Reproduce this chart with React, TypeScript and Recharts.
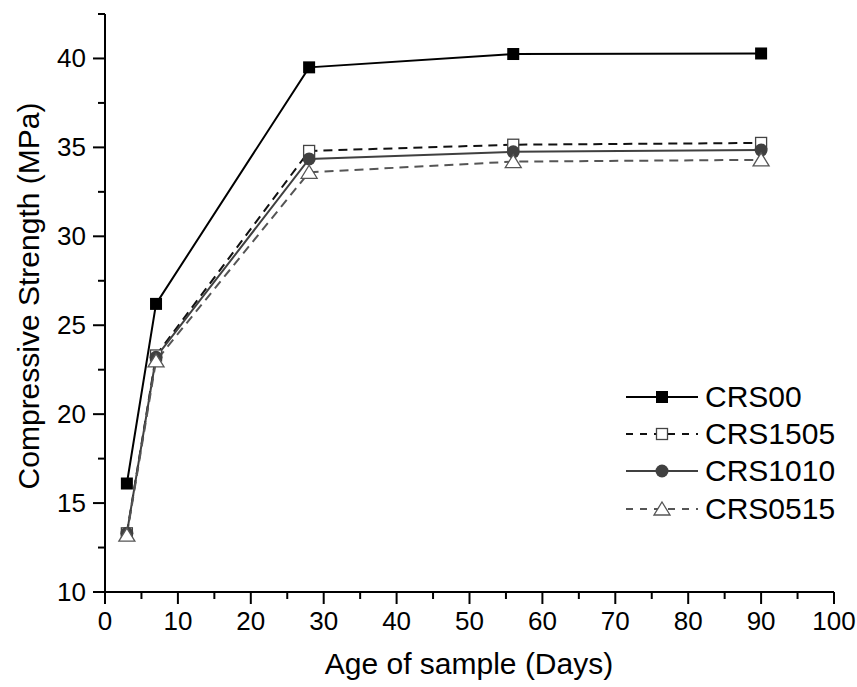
import { LineChart, Line, XAxis, YAxis, Legend, Label } from "recharts";

const days = [3, 7, 28, 56, 90];
const crs00 = [16.1, 26.2, 39.5, 40.25, 40.28];
const crs1505 = [13.3, 23.3, 34.8, 35.15, 35.25];
const crs1010 = [13.3, 23.2, 34.35, 34.75, 34.85];
const crs0515 = [13.2, 23.0, 33.6, 34.2, 34.3];

const xTicks = [0, 5, 10, 15, 20, 25, 30, 35, 40, 45, 50, 55, 60, 65, 70, 75, 80, 85, 90, 95, 100];
const yTicks = [10, 12.5, 15, 17.5, 20, 22.5, 25, 27.5, 30, 32.5, 35, 37.5, 40, 42.5];

const data = days.map((d, i) => ({
  day: d,
  CRS00: crs00[i],
  CRS1505: crs1505[i],
  CRS1010: crs1010[i],
  CRS0515: crs0515[i],
}));

const FONT = "'Liberation Sans', Arial, sans-serif";

type Marker = "square" | "openSquare" | "circle" | "triangle";

type SeriesDef = { key: string; color: string; dash?: string; marker: Marker };

const SERIES: SeriesDef[] = [
  { key: "CRS00", color: "#000000", marker: "square" },
  { key: "CRS1505", color: "#111111", dash: "9 6", marker: "openSquare" },
  { key: "CRS1010", color: "#404040", marker: "circle" },
  { key: "CRS0515", color: "#555555", dash: "9 6", marker: "triangle" },
];

function markerShape(m: Marker, cx: number, cy: number, color: string, key?: string) {
  if (m === "square")
    return <rect key={key} x={cx - 6} y={cy - 6} width={12} height={12} fill={color} />;
  if (m === "openSquare")
    return (
      <rect key={key} x={cx - 5.5} y={cy - 5.5} width={11} height={11} fill="#fff" stroke="#444" strokeWidth={1.3} />
    );
  if (m === "circle") return <circle key={key} cx={cx} cy={cy} r={6.5} fill={color} />;
  return (
    <polygon
      key={key}
      points={`${cx},${cy - 7} ${cx + 8},${cy + 6} ${cx - 8},${cy + 6}`}
      fill="#fff"
      stroke="#555"
      strokeWidth={1.3}
    />
  );
}

function XTick({ x, y, payload }: any) {
  const major = payload.value % 10 === 0;
  return (
    <g>
      <line x1={x} x2={x} y1={y} y2={y + (major ? 12 : 7)} stroke="#000" strokeWidth={2} />
      {major && (
        <text x={x} y={y + 38} textAnchor="middle" fontSize={26} fontFamily={FONT} fill="#000">
          {payload.value}
        </text>
      )}
    </g>
  );
}

function YTick({ x, y, payload }: any) {
  const major = payload.value % 5 === 0;
  return (
    <g>
      <line x1={x} x2={x - (major ? 12 : 7)} y1={y} y2={y} stroke="#000" strokeWidth={2} />
      {major && (
        <text x={x - 19} y={y + 9} textAnchor="end" fontSize={26} fontFamily={FONT} fill="#000">
          {payload.value}
        </text>
      )}
    </g>
  );
}

function LegendBox() {
  return (
    <div style={{ fontFamily: FONT, fontSize: 30, color: "#000" }}>
      {SERIES.map((s) => (
        <div key={s.key} style={{ display: "flex", alignItems: "center", height: 37.3 }}>
          <svg width={72} height={30} style={{ display: "block" }}>
            <line
              x1={0}
              x2={72}
              y1={15}
              y2={15}
              stroke={s.color}
              strokeWidth={2}
              strokeDasharray={s.dash ? "7 7" : undefined}
            />
            {markerShape(s.marker, 36, 15, s.color)}
          </svg>
          <span style={{ marginLeft: 7, lineHeight: "30px" }}>{s.key}</span>
        </div>
      ))}
    </div>
  );
}

export default function App() {
  return (
    <div style={{ position: "absolute", left: 0, top: 0, width: 857, height: 687, background: "#fff" }}>
      <LineChart width={857} height={687} data={data} margin={{ top: 14, right: 23, bottom: 0, left: 0 }}>
        <XAxis
          dataKey="day"
          type="number"
          domain={[0, 100]}
          ticks={xTicks}
          interval={0}
          height={95}
          tickSize={0}
          tickMargin={0}
          tickLine={false}
          tick={<XTick />}
          axisLine={{ stroke: "#000", strokeWidth: 2 }}
        >
          <Label
            content={() => (
              <text x={469} y={674} textAnchor="middle" fontSize={30} fontFamily={FONT} fill="#000">
                Age of sample (Days)
              </text>
            )}
          />
        </XAxis>
        <YAxis
          type="number"
          domain={[10, 42.5]}
          ticks={yTicks}
          interval={0}
          width={105}
          tickSize={0}
          tickMargin={0}
          tickLine={false}
          tick={<YTick />}
          allowDataOverflow
          axisLine={{ stroke: "#000", strokeWidth: 2 }}
        >
          <Label
            content={() => (
              <text
                x={39}
                y={296}
                transform="rotate(-90 39 296)"
                textAnchor="middle"
                fontSize={30}
                fontFamily={FONT}
                fill="#000"
              >
                Compressive Strength (MPa)
              </text>
            )}
          />
        </YAxis>
        <Legend
          layout="vertical"
          align="center"
          verticalAlign="middle"
          content={() => <LegendBox />}
          wrapperStyle={{ left: 626, top: 378, width: 230 }}
        />
        {SERIES.map((s) => (
          <Line
            key={s.key}
            dataKey={s.key}
            stroke={s.color}
            strokeWidth={2}
            strokeDasharray={s.dash}
            isAnimationActive={false}
            activeDot={false}
            dot={(p: any) => markerShape(s.marker, p.cx, p.cy, s.color, `${s.key}-${p.index}`)}
          />
        ))}
      </LineChart>
    </div>
  );
}
